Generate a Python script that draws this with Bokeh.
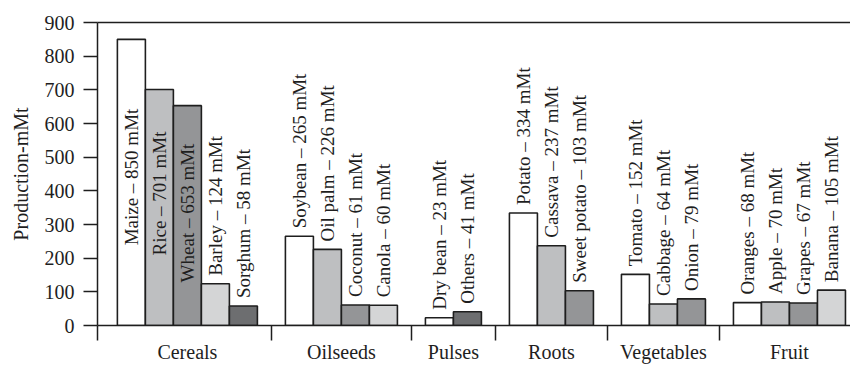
import math
from bokeh.plotting import figure
from bokeh.models import Range1d, FixedTicker, LinearAxis, ColumnDataSource
from bokeh.core.properties import value
from bokeh.embed import file_html
from bokeh.resources import INLINE

# ---- data ----
groups = ["Cereals", "Oilseeds", "Pulses", "Roots", "Vegetables", "Fruit"]
crops = [
    ["Maize", "Rice", "Wheat", "Barley", "Sorghum"],
    ["Soybean", "Oil palm", "Coconut", "Canola"],
    ["Dry bean", "Others"],
    ["Potato", "Cassava", "Sweet potato"],
    ["Tomato", "Cabbage", "Onion"],
    ["Oranges", "Apple", "Grapes", "Banana"],
]
production = [
    [850, 701, 653, 124, 58],
    [265, 226, 61, 60],
    [23, 41],
    [334, 237, 103],
    [152, 64, 79],
    [68, 70, 67, 105],
]
y_ticks = [0, 100, 200, 300, 400, 500, 600, 700, 800, 900]
unit = "mMt"

# ---- styles ----
shades = ["#ffffff", "#bebfc1", "#949597", "#d4d5d6", "#6d6e70"]
shade_index = [[0, 1, 2, 3, 4], [0, 1, 2, 3], [0, 4], [0, 1, 2], [0, 1, 2], [0, 1, 2, 3]]
# labels that sit inside their (tall) bars: value where the text starts
inside_label_start = {"Maize": 238, "Rice": 208, "Wheat": 128}
SERIF = "Liberation Serif"
INK = "#1e1e1e"

# ---- layout in bar-width units ----
xs, tops, fills, names, label_y, label_off, centers, seps = [], [], [], [], [], [], [], []
cursor = 0
for g, cs, vals, sh in zip(groups, crops, production, shade_index):
    seps.append(cursor)
    n = len(vals)
    for i, (c, v, s) in enumerate(zip(cs, vals, sh)):
        xs.append(cursor + 1 + i)
        tops.append(v)
        fills.append(shades[s])
        names.append(f"{c} \u2013 {v} {unit}")
        if c in inside_label_start:
            label_y.append(inside_label_start[c])
            label_off.append(0)
        else:
            label_y.append(v)
            label_off.append(-8)
    centers.append(cursor + (n + 1) / 2)
    cursor += n + 1

x_start = -0.21
x_end = cursor - 0.32
seps[0] = x_start

src = ColumnDataSource(dict(x=xs, top=tops, fill=fills, label=names, ly=label_y, yoff=label_off))

p = figure(width=850, height=365,
           x_range=Range1d(x_start, x_end), y_range=Range1d(0, 900),
           output_backend="svg", toolbar_location=None,
           min_border_left=97, min_border_right=0, min_border_top=22, min_border_bottom=40)
p.outline_line_color = None
p.grid.visible = False
p.background_fill_color = "white"
p.border_fill_color = "white"

p.vbar(x="x", top="top", bottom=0, width=1, source=src,
       fill_color="fill", line_color=INK, line_width=1.6)

p.text(x="x", y="ly", text="label", source=src, angle=math.pi / 2,
       text_align="left", text_baseline="middle", y_offset="yoff",
       text_font=value(SERIF), text_font_size="19px", text_color=INK)

# x axis: group names at group centres, separators as minor ticks
xa = p.xaxis[0]
xa.ticker = FixedTicker(ticks=centers, minor_ticks=seps)
xa.major_label_overrides = {float(c): g for c, g in zip(centers, groups)}
xa.major_tick_out = 0
xa.major_tick_in = 0
xa.minor_tick_out = 15
xa.minor_tick_in = 0
xa.minor_tick_line_color = INK
xa.minor_tick_line_width = 1.5
xa.axis_line_color = INK
xa.axis_line_width = 1.5
xa.major_label_standoff = 0
xa.major_label_text_font = SERIF
xa.major_label_text_font_size = "20px"
xa.major_label_text_color = INK

ya = p.yaxis[0]
ya.ticker = FixedTicker(ticks=y_ticks)
ya.major_tick_out = 14
ya.major_tick_in = 0
ya.minor_tick_out = 0
ya.minor_tick_in = 0
ya.major_tick_line_color = INK
ya.major_tick_line_width = 1.5
ya.axis_line_color = INK
ya.axis_line_width = 1.5
ya.major_label_standoff = 9
ya.major_label_text_font = SERIF
ya.major_label_text_font_size = "20px"
ya.major_label_text_color = INK
ya.axis_label = "Production-mMt"
ya.axis_label_text_font = SERIF
ya.axis_label_text_font_style = "normal"
ya.axis_label_text_font_size = "20px"
ya.axis_label_text_color = INK
ya.axis_label_standoff = 10

top_axis = LinearAxis(ticker=FixedTicker(ticks=[]), major_label_text_font_size="0px",
                      major_tick_out=0, major_tick_in=0, minor_tick_out=0, minor_tick_in=0,
                      axis_line_color=INK, axis_line_width=1.5)
p.add_layout(top_axis, "above")

open("out.html", "w").write(file_html(p, INLINE))
